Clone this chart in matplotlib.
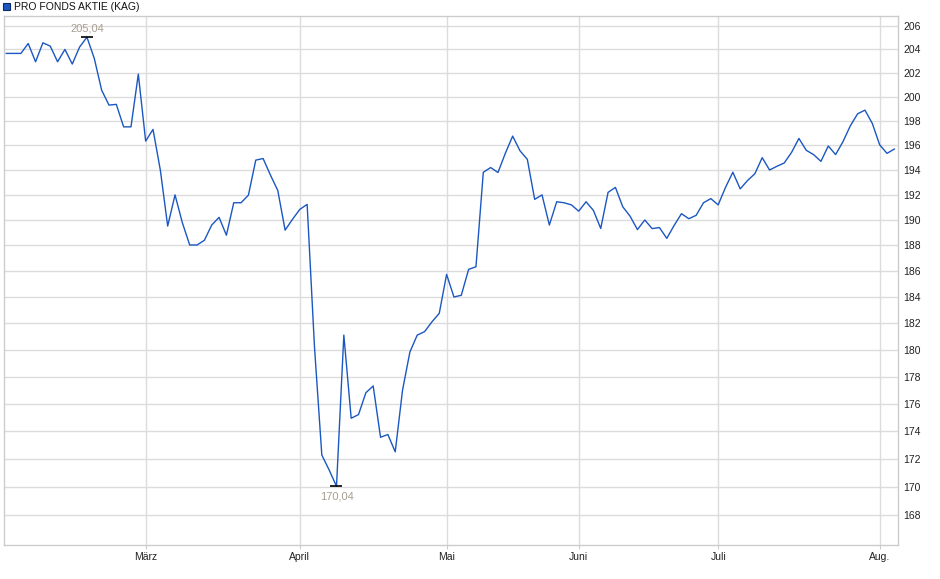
import numpy as np
import matplotlib.pyplot as plt
from matplotlib.patches import Rectangle

# Kursverlauf (Fondspreis je Handelstag)
werte = [
    203.66, 203.66, 203.66, 204.50, 202.95, 204.56, 204.28, 202.95, 204.00, 202.76,
    204.20, 205.04, 203.24, 200.57, 199.32, 199.38, 197.52, 197.52, 201.91, 196.35,
    197.31, 193.99, 189.52, 192.00, 189.78, 188.03, 188.03, 188.40, 189.60, 190.21,
    188.80, 191.37, 191.37, 191.98, 194.80, 194.93, 193.59, 192.35, 189.20, 190.05,
    190.84, 191.24, 180.22, 172.27, 171.20, 170.04, 181.10, 174.93, 175.20, 176.80,
    177.30, 173.55, 173.75, 172.50, 177.00, 179.83, 181.10, 181.36, 182.10, 182.75,
    185.74, 184.00, 184.13, 186.13, 186.33, 193.81, 194.20, 193.80, 195.35, 196.76,
    195.56, 194.86, 191.64, 192.00, 189.60, 191.45, 191.37, 191.20, 190.70, 191.45,
    190.76, 189.33, 192.20, 192.60, 191.05, 190.30, 189.24, 190.00, 189.32, 189.40,
    188.55, 189.57, 190.50, 190.10, 190.37, 191.37, 191.70, 191.20, 192.60, 193.82,
    192.48, 193.15, 193.70, 195.00, 194.00, 194.30, 194.57, 195.43, 196.57, 195.60,
    195.25, 194.70, 195.95, 195.25, 196.30, 197.60, 198.60, 198.90, 197.80, 196.05,
    195.35, 195.70,
]

# Monatsanfang (Index des ersten Handelstages)
monate = ['März', 'April', 'Mai', 'Juni', 'Juli', 'Aug.']
monat_idx = [19, 40, 60, 78, 97, 119]

y_ticks = list(range(168, 207, 2))
titel = 'PRO FONDS AKTIE (KAG)'

plt.rcParams['font.family'] = ['Liberation Sans', 'DejaVu Sans']

werte = np.array(werte)
x = np.arange(len(werte))

fig = plt.figure(figsize=(9.4, 5.79), dpi=100)
ax = fig.add_axes([4/940, 1 - 545/579, 894/940, 529/579])

ax.plot(x, werte, color='#1b57c2', linewidth=1.0)

ax.set_yscale('log')
ax.set_ylim(165.93, 206.86)
ax.set_xlim(-0.3, 121.5)

ax.set_yticks(y_ticks)
ax.set_yticklabels([str(t) for t in y_ticks])
ax.yaxis.set_minor_locator(plt.NullLocator())
ax.yaxis.tick_right()
ax.tick_params(axis='y', length=0, pad=4, labelsize=7.5, labelcolor='#222222')

ax.set_xticks(monat_idx)
ax.set_xticklabels(monate)
ax.tick_params(axis='x', length=3, color='#cccccc', pad=2, labelsize=7.5, labelcolor='#222222')

ax.grid(True, color='#dcdcdc', linewidth=1.0)
ax.set_axisbelow(True)
for s in ax.spines.values():
    s.set_color('#cccccc')
    s.set_linewidth(1.0)

# Hoch / Tief markieren
i_max = int(np.argmax(werte))
i_min = int(np.argmin(werte))
ax.plot([i_max], [werte[i_max]], marker='_', color='black', markersize=8, mew=1.2)
ax.plot([i_min], [werte[i_min]], marker='_', color='black', markersize=8, mew=1.2)
ax.annotate(f'{werte[i_max]:.2f}'.replace('.', ','), (i_max, werte[i_max]),
            xytext=(0, 9), textcoords='offset pixels', ha='center', va='center',
            fontsize=8, color='#a89e90')
ax.annotate(f'{werte[i_min]:.2f}'.replace('.', ','), (i_min, werte[i_min]),
            xytext=(0, -10), textcoords='offset pixels', ha='center', va='center',
            fontsize=8, color='#a89e90')

# Legende oben links
fig.patches.append(Rectangle((3/940, 1 - 10/579), 7/940, 7/579, transform=fig.transFigure,
                             facecolor='#1b57c2', edgecolor='#0a2a66', linewidth=0.8))
fig.text(14/940, 1 - 6.5/579, titel, fontsize=7.5, va='center', ha='left', color='#111111')

fig.savefig('out.png', dpi=100)
